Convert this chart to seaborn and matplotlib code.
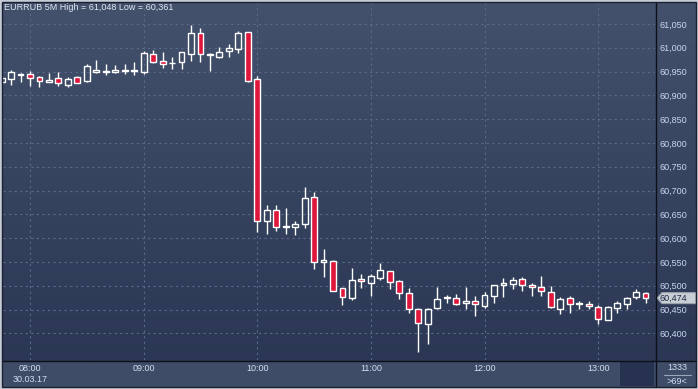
import numpy as np
import pandas as pd
import matplotlib
matplotlib.use("Agg")
import matplotlib.pyplot as plt
import seaborn as sns
from matplotlib.colors import LinearSegmentedColormap
from matplotlib.patches import Rectangle, Polygon
from matplotlib.lines import Line2D
from matplotlib import transforms

# ---------------- data ----------------
title = "EURRUB 5M High = 61,048 Low = 60,361"
candle_index = list(range(-3, 66))  # 5-minute candles, 0 = 08:00

open_prices = [
    60.928, 60.934, 60.943,
    60.945, 60.939, 60.928, 60.937, 60.922, 60.939, 60.931, 60.950, 60.949, 60.949, 60.951, 60.951,
    60.948, 60.987, 60.972, 60.967, 60.970, 60.986, 61.030, 60.984, 60.981, 60.993, 60.997, 61.033,
    60.934, 60.635, 60.659, 60.624, 60.623, 60.629, 60.686, 60.549, 60.552, 60.495, 60.475, 60.514,
    60.506, 60.517, 60.531, 60.509, 60.485, 60.452, 60.419, 60.454, 60.474, 60.474, 60.463, 60.467,
    60.458, 60.478, 60.501, 60.503, 60.514, 60.502, 60.497, 60.486, 60.452, 60.474, 60.462, 60.461,
    60.455, 60.428, 60.453, 60.462, 60.476, 60.485,
]
high_prices = [
    60.939, 60.953, 60.947,
    60.952, 60.940, 60.947, 60.949, 60.939, 60.941, 60.966, 60.974, 60.966, 60.964, 60.966, 60.970,
    60.993, 60.995, 60.992, 60.981, 60.992, 61.048, 61.042, 60.988, 61.002, 61.008, 61.035, 61.034,
    60.941, 60.670, 60.670, 60.664, 60.637, 60.708, 60.696, 60.577, 60.554, 60.496, 60.537, 60.525,
    60.525, 60.548, 60.532, 60.512, 60.495, 60.453, 60.453, 60.498, 60.481, 60.482, 60.498, 60.479,
    60.487, 60.502, 60.516, 60.518, 60.518, 60.505, 60.521, 60.500, 60.476, 60.479, 60.467, 60.467,
    60.460, 60.458, 60.467, 60.477, 60.493, 60.486,
]
low_prices = [
    60.926, 60.922, 60.928,
    60.920, 60.918, 60.928, 60.920, 60.918, 60.926, 60.928, 60.947, 60.943, 60.947, 60.945, 60.943,
    60.945, 60.969, 60.958, 60.955, 60.955, 60.972, 60.971, 60.951, 60.979, 60.981, 60.990, 60.927,
    60.612, 60.609, 60.616, 60.609, 60.607, 60.622, 60.535, 60.519, 60.489, 60.460, 60.470, 60.496,
    60.479, 60.512, 60.493, 60.472, 60.442, 60.361, 60.377, 60.451, 60.463, 60.460, 60.451, 60.437,
    60.454, 60.463, 60.477, 60.493, 60.490, 60.479, 60.479, 60.454, 60.440, 60.442, 60.451, 60.451,
    60.420, 60.427, 60.443, 60.451, 60.472, 60.464,
]
close_prices = [
    60.937, 60.949, 60.945,
    60.937, 60.930, 60.932, 60.925, 60.934, 60.926, 60.962, 60.953, 60.952, 60.954, 60.953, 60.953,
    60.989, 60.970, 60.965, 60.968, 60.991, 61.030, 60.986, 60.986, 60.991, 60.999, 61.030, 60.931,
    60.635, 60.659, 60.624, 60.626, 60.629, 60.684, 60.549, 60.554, 60.490, 60.476, 60.512, 60.509,
    60.520, 60.533, 60.507, 60.484, 60.451, 60.421, 60.452, 60.472, 60.476, 60.461, 60.467, 60.462,
    60.480, 60.501, 60.505, 60.512, 60.501, 60.497, 60.488, 60.455, 60.472, 60.461, 60.464, 60.457,
    60.430, 60.455, 60.463, 60.474, 60.486, 60.474,
]

time_ticks = [0, 12, 24, 36, 48, 60]
time_labels = ["08:00\n30.03.17", "09:00", "10:00", "11:00", "12:00", "13:00"]
price_ticks = [60.40, 60.45, 60.50, 60.55, 60.60, 60.65, 60.70,
               60.75, 60.80, 60.85, 60.90, 60.95, 61.00, 61.05]
last_price = 60.474
volume_label = "1333"
count_label = ">69<"

# ---------------- style ----------------
sns.set_theme(style="dark")
plt.rcParams['font.family'] = ['Liberation Sans', 'DejaVu Sans']

W, H = 698, 389
fig = plt.figure(figsize=(W / 100, H / 100), dpi=100, facecolor="#c5ccd7")


def fx(px):
    return px / W


def fy(py):
    return 1 - py / H


# gradient panel background (plot + right scale)
bg = fig.add_axes([fx(2), fy(361), fx(696) - fx(2), fy(2) - fy(361)], zorder=-3)
grad = np.linspace(0, 1, 256)[:, None]
cmap = LinearSegmentedColormap.from_list("bg", ["#43516c", "#2b3754"])
bg.imshow(grad, aspect="auto", cmap=cmap, extent=[0, 1, 0, 1], origin="upper")
bg.set_axis_off()

# bottom time strip
fig.patches.append(Rectangle((fx(2), fy(387)), fx(696) - fx(2), fy(361) - fy(387),
                             transform=fig.transFigure, facecolor="#3e4c68",
                             edgecolor="none", zorder=-2))
fig.patches.append(Rectangle((fx(620), fy(386)), fx(654) - fx(620), fy(362) - fy(386),
                             transform=fig.transFigure, facecolor="#263250",
                             edgecolor="none", zorder=-1))

# ---------------- main axes ----------------
ax = fig.add_axes([fx(3), fy(360), fx(655) - fx(3), fy(3) - fy(360)], zorder=2)
ax.patch.set_alpha(0)

df = pd.DataFrame({"i": candle_index, "o": open_prices, "h": high_prices,
                   "l": low_prices, "c": close_prices})
df["up"] = df["c"] >= df["o"]
df["top"] = df[["o", "c"]].max(axis=1)
df["bot"] = df[["o", "c"]].min(axis=1)
df["height"] = (df["top"] - df["bot"]).clip(lower=0.0008)

ax.vlines(df["i"], df["top"], df["h"], color="white", lw=1.0, zorder=3)
ax.vlines(df["i"], df["l"], df["bot"], color="white", lw=1.0, zorder=3)
faces = ["none" if u else "#df163c" for u in df["up"]]
ax.bar(df["i"], df["height"], bottom=df["bot"], width=0.62, color=faces,
       edgecolor="white", linewidth=1.0, zorder=4)

ax.set_xlim(-2.85, 66.0)
ax.set_ylim(60.344, 61.094)

ax.set_xticks(time_ticks)
ax.set_xticklabels(time_labels)
ax.yaxis.tick_right()
ax.set_yticks(price_ticks)
ax.set_yticklabels([f"{v:.3f}".replace(".", ",") for v in price_ticks])
ax.tick_params(axis="y", length=0, pad=3, labelsize=6.5, labelcolor="#c9d6ee")
ax.tick_params(axis="x", length=0, pad=3, labelsize=6.5, labelcolor="#d3ddf0")
ax.grid(True, color="#5b6a88", linestyle=(0, (2, 3)), linewidth=0.8)
ax.set_axisbelow(True)
for s in ax.spines.values():
    s.set_visible(False)

# separators and frame
fig.add_artist(Line2D([fx(655.5), fx(655.5)], [fy(2), fy(387)], color="#0d1018", lw=1.0, zorder=3))
fig.add_artist(Line2D([fx(2), fx(696)], [fy(360.5), fy(360.5)], color="#0d1018", lw=1.0, zorder=3))
fig.add_artist(Rectangle((fx(2), fy(387)), fx(696) - fx(2), fy(2) - fy(387),
                         transform=fig.transFigure, facecolor="none",
                         edgecolor="#1b2131", lw=1.0, zorder=3))

# title
fig.text(fx(4), fy(8), title, fontsize=6.5, color="#e2e8f2", va="center", ha="left", zorder=5)

# last price tag
tr = transforms.blended_transform_factory(fig.transFigure, ax.transData)
hh = 5.5 / 476
tag = Polygon([(fx(657), last_price), (fx(662), last_price + hh), (fx(696), last_price + hh),
               (fx(696), last_price - hh), (fx(662), last_price - hh)],
              closed=True, transform=tr, facecolor="#c9cdd4", edgecolor="#9aa2ae",
              lw=0.8, clip_on=False, zorder=5)
ax.add_artist(tag)
ax.text(fx(660), last_price, f"{last_price:.3f}".replace(".", ","), transform=tr,
        fontsize=6.5, color="#1c2b48", va="center", ha="left", clip_on=False, zorder=6)

# bottom-right counters
fig.text(fx(677), fy(367.5), volume_label, fontsize=6.5, color="#d3ddf0", ha="center", va="center", zorder=5)
fig.text(fx(677), fy(381), count_label, fontsize=6.5, color="#d3ddf0", ha="center", va="center", zorder=5)
fig.add_artist(Line2D([fx(664), fx(691)], [fy(374.5), fy(374.5)], color="#9aa6ba", lw=0.8, zorder=5))

fig.savefig("out.png", dpi=100, facecolor=fig.get_facecolor())
